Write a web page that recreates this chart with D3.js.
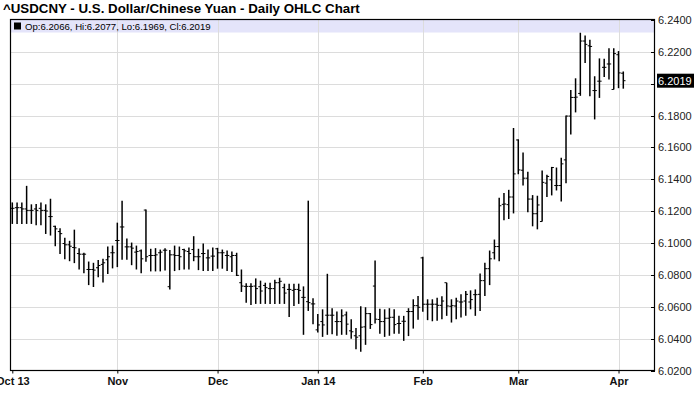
<!DOCTYPE html>
<html><head><meta charset="utf-8">
<script src="https://cdn.jsdelivr.net/npm/d3@7"></script>
<style>
html,body{margin:0;padding:0;background:#fff;}
svg{display:block;font-family:Arial,"Liberation Sans",sans-serif;}
</style></head>
<body>
<script>
const title = "^USDCNY - U.S. Dollar/Chinese Yuan - Daily OHLC Chart";
const monthIdx = [0, 22, 43, 64, 86, 106, 127];
const monthLabels = ["Oct 13","Nov","Dec","Jan 14","Feb","Mar","Apr"];
const yTicks = [6.02,6.04,6.06,6.08,6.10,6.12,6.14,6.16,6.18,6.20,6.22,6.24];

const opens = [6.1218,6.1222,6.1222,6.1214,6.1205,6.1214,6.1218,6.1205,6.1166,6.1105,
6.1072,6.0997,6.0989,6.0972,6.0934,6.0930,6.0834,6.0834,6.0845,6.0866,
6.0895,6.0939,6.1016,6.1101,6.0976,6.0976,6.0943,6.0951,6.1207,6.0922,
6.0922,6.0939,6.0955,6.0726,6.0926,6.0922,6.0959,6.0947,6.0959,6.0914,
6.0934,6.0907,6.0918,6.0964,6.0939,6.0922,6.0914,6.0922,6.0751,6.0728,
6.0728,6.0730,6.0726,6.0734,6.0714,6.0714,6.0751,6.0720,6.0709,6.0703,
6.0709,6.0659,6.0632,6.0618,6.0455,6.0507,6.0547,6.0547,6.0507,6.0507,
6.0549,6.0449,6.0418,6.0418,6.0474,6.0557,6.0730,6.0520,6.0507,6.0528,
6.0534,6.0495,6.0509,6.0570,6.0570,6.0607,6.0907,6.0616,6.0616,6.0616,
6.0609,6.0751,6.0603,6.0605,6.0630,6.0636,6.0630,6.0676,6.0678,6.0764,
6.0839,6.0939,6.0978,6.1243,6.1241,6.1289,6.1647,6.1457,6.1407,6.1276,
6.1184,6.1135,6.1376,6.1397,6.1361,6.1361,6.1522,6.1797,6.1914,6.1939,
6.2268,6.2238,6.1957,6.2016,6.2103,6.2124,6.1964,6.2182,6.2066];

const highs = [6.1255,6.1255,6.1255,6.1359,6.1243,6.1245,6.1255,6.1243,6.1278,6.1109,
6.1093,6.1034,6.1014,6.1084,6.0968,6.0939,6.0884,6.0876,6.0893,6.0901,
6.0978,6.0984,6.1128,6.1266,6.1028,6.1003,6.0984,6.0959,6.1211,6.0964,
6.0968,6.0959,6.0968,6.0957,6.0984,6.0978,6.0964,6.0972,6.1043,6.0964,
6.0997,6.0959,6.0972,6.0970,6.0959,6.0953,6.0947,6.0939,6.0834,6.0747,
6.0747,6.0778,6.0764,6.0751,6.0751,6.0770,6.0782,6.0745,6.0745,6.0745,
6.0745,6.0728,6.1266,6.0653,6.0555,6.0584,6.0807,6.0591,6.0570,6.0584,
6.0570,6.0522,6.0466,6.0603,6.0597,6.0561,6.0890,6.0588,6.0584,6.0591,
6.0584,6.0543,6.0543,6.0591,6.0647,6.0668,6.0914,6.0647,6.0647,6.0657,
6.0666,6.0751,6.0647,6.0657,6.0678,6.0699,6.0703,6.0709,6.0809,6.0876,
6.0953,6.1022,6.1284,6.1314,6.1334,6.1722,6.1651,6.1568,6.1447,6.1301,
6.1297,6.1455,6.1428,6.1478,6.1474,6.1536,6.1801,6.1960,6.2034,6.2320,
6.2303,6.2276,6.2047,6.2159,6.2157,6.2222,6.2222,6.2205,6.2077];

const lows = [6.1120,6.1120,6.1120,6.1120,6.1120,6.1111,6.1111,6.1057,6.1047,6.0980,
6.0932,6.0899,6.0886,6.0874,6.0834,6.0811,6.0736,6.0724,6.0786,6.0753,
6.0805,6.0841,6.0849,6.0895,6.0895,6.0861,6.0834,6.0811,6.0882,6.0822,
6.0822,6.0822,6.0828,6.0709,6.0824,6.0830,6.0834,6.0834,6.0886,6.0830,
6.0824,6.0824,6.0824,6.0839,6.0839,6.0824,6.0818,6.0793,6.0693,6.0626,
6.0611,6.0618,6.0618,6.0618,6.0618,6.0618,6.0618,6.0618,6.0536,6.0605,
6.0618,6.0424,6.0574,6.0491,6.0439,6.0411,6.0424,6.0428,6.0418,6.0424,
6.0424,6.0399,6.0334,6.0318,6.0361,6.0461,6.0495,6.0430,6.0411,6.0418,
6.0430,6.0430,6.0386,6.0416,6.0463,6.0518,6.0568,6.0516,6.0509,6.0513,
6.0522,6.0543,6.0501,6.0522,6.0532,6.0543,6.0584,6.0543,6.0574,6.0668,
6.0736,6.0897,6.0886,6.1143,6.1151,6.1186,6.1432,6.1361,6.1193,6.1105,
6.1086,6.1135,6.1289,6.1299,6.1330,6.1261,6.1376,6.1682,6.1820,6.1924,
6.2130,6.1922,6.1776,6.1911,6.2043,6.2026,6.1964,6.1972,6.1969];

const closes = [6.1218,6.1222,6.1214,6.1205,6.1205,6.1205,6.1205,6.1201,6.1166,6.1089,
6.1059,6.0989,6.0980,6.0970,6.0930,6.0930,6.0834,6.0830,6.0859,6.0876,
6.0914,6.0939,6.1016,6.1101,6.0976,6.0968,6.0947,6.0901,6.0914,6.0922,
6.0926,6.0943,6.0955,6.0926,6.0922,6.0914,6.0951,6.0934,6.0914,6.0914,
6.0934,6.0907,6.0918,6.0939,6.0939,6.0922,6.0922,6.0797,6.0730,6.0728,
6.0728,6.0714,6.0699,6.0720,6.0714,6.0751,6.0760,6.0686,6.0709,6.0709,
6.0703,6.0659,6.0626,6.0618,6.0486,6.0486,6.0547,6.0547,6.0507,6.0543,
6.0491,6.0443,6.0409,6.0472,6.0557,6.0488,6.0522,6.0507,6.0528,6.0534,
6.0488,6.0495,6.0509,6.0570,6.0607,6.0597,6.0616,6.0616,6.0616,6.0609,
6.0636,6.0605,6.0607,6.0636,6.0630,6.0678,6.0645,6.0676,6.0764,6.0839,
6.0901,6.0978,6.1234,6.1245,6.1289,6.1434,6.1459,6.1407,6.1276,6.1184,
6.1239,6.1381,6.1418,6.1474,6.1361,6.1497,6.1797,6.1914,6.1916,6.2268,
6.2247,6.2234,6.1957,6.2016,6.2103,6.2124,6.2189,6.2068,6.2019];

const bars = opens.map((o,i)=>({i, o, h:highs[i], l:lows[i], c:closes[i]}));
const last = bars[bars.length-1];

const W = 700, H = 411;
const plot = {left:10, right:655, top:20, bottom:370.5};

const svg = d3.select("body").append("svg").attr("width",W).attr("height",H);

const x = d3.scaleLinear().domain([0, bars.length-1]).range([12.3, 623.3]);
const y = d3.scaleLinear().domain([6.02, 6.24]).range([plot.bottom, plot.top]);
const ly = y(last.c);

// title
svg.append("text").attr("x",3).attr("y",13)
  .attr("font-size",13.3).attr("font-weight","bold").attr("fill","#000")
  .text(title);

// info band
svg.append("rect").attr("x",plot.left).attr("y",plot.top)
  .attr("width",plot.right-plot.left).attr("height",12.5)
  .attr("fill","#e4e4fa");

// gridlines
const g = svg.append("g");
g.selectAll("line.hg").data(yTicks.slice(1,-1)).join("line")
  .attr("x1",plot.left).attr("x2",plot.right)
  .attr("y1",d=>Math.round(y(d))+0.5).attr("y2",d=>Math.round(y(d))+0.5)
  .attr("stroke","#dcdcdc").attr("stroke-width",1);
g.selectAll("line.vg").data(monthIdx.slice(1)).join("line")
  .attr("x1",d=>Math.round(x(d))+0.5).attr("x2",d=>Math.round(x(d))+0.5)
  .attr("y1",plot.top).attr("y2",plot.bottom)
  .attr("stroke","#dcdcdc").attr("stroke-width",1);

// band text
svg.append("rect").attr("x",14).attr("y",22.5).attr("width",7).attr("height",7).attr("fill","#000");
svg.append("text").attr("x",25).attr("y",29.5)
  .attr("font-size",9.6).attr("fill","#000")
  .text(`Op:${last.o.toFixed(4)}, Hi:${last.h.toFixed(4)}, Lo:${last.l.toFixed(4)}, Cl:${last.c.toFixed(4)}`);

// frame
svg.append("rect").attr("x",plot.left+0.5).attr("y",plot.top-0.5)
  .attr("width",plot.right-plot.left-1).attr("height",plot.bottom-plot.top+0.5)
  .attr("fill","none").attr("stroke","#000").attr("stroke-width",1.2);

// right axis (tick label hidden where the last-price label sits)
const yLabelTicks = yTicks.filter(d => Math.abs(y(d) - ly) > 11);
const yAxis = d3.axisRight(y).tickValues(yLabelTicks).tickFormat(d3.format(".4f")).tickSize(0).tickPadding(3);
const ya = svg.append("g").attr("transform",`translate(${plot.right},0)`).call(yAxis);
ya.select(".domain").remove();
ya.selectAll("text").attr("font-size",11).attr("fill","#222").attr("font-family","Arial, 'Liberation Sans', sans-serif");
svg.append("g").selectAll("line").data(yTicks).join("line")
  .attr("x1",plot.right-4).attr("x2",plot.right)
  .attr("y1",d=>Math.round(y(d))+0.5).attr("y2",d=>Math.round(y(d))+0.5)
  .attr("stroke","#000");

// bottom axis
const xAxis = d3.axisBottom(x).tickValues(monthIdx).tickFormat((d,i)=>monthLabels[i]).tickSize(3).tickPadding(4);
const xa = svg.append("g").attr("transform",`translate(0,${plot.bottom})`).call(xAxis);
xa.select(".domain").remove();
xa.selectAll("text").attr("font-size",11).attr("font-weight","bold").attr("fill","#111")
  .attr("font-family","Arial, 'Liberation Sans', sans-serif");
xa.selectAll("line").attr("stroke","#000");

// OHLC bars
const bg = svg.append("g");
bg.selectAll("line.hl").data(bars).join("line")
  .attr("x1",d=>x(d.i)).attr("x2",d=>x(d.i))
  .attr("y1",d=>y(d.h)).attr("y2",d=>y(d.l))
  .attr("stroke","#000").attr("stroke-width",1.5);
bg.selectAll("line.op").data(bars).join("line")
  .attr("x1",d=>x(d.i)-2.2).attr("x2",d=>x(d.i))
  .attr("y1",d=>y(d.o)).attr("y2",d=>y(d.o))
  .attr("stroke","#000").attr("stroke-width",1);
bg.selectAll("line.cl").data(bars).join("line")
  .attr("x1",d=>x(d.i)).attr("x2",d=>x(d.i)+2.2)
  .attr("y1",d=>y(d.c)).attr("y2",d=>y(d.c))
  .attr("stroke","#000").attr("stroke-width",1);

// last price label
svg.append("rect").attr("x",plot.right+2).attr("y",ly-7).attr("width",37).attr("height",14).attr("fill","#000");
svg.append("text").attr("x",plot.right+3).attr("y",ly+4)
  .attr("font-size",11).attr("fill","#fff").text(last.c.toFixed(4));
</script>
</body></html>
